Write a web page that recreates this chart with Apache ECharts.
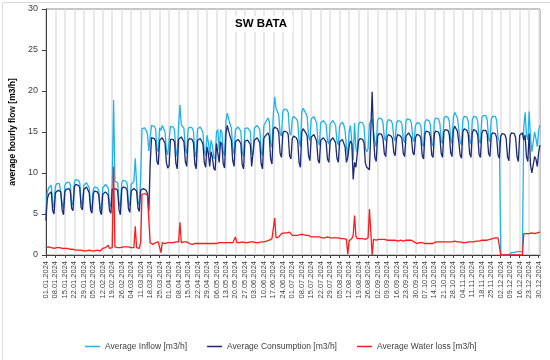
<!DOCTYPE html>
<html><head><meta charset="utf-8">
<script src="https://cdn.jsdelivr.net/npm/echarts@6/dist/echarts.min.js"></script>
<style>
html,body{margin:0;padding:0;background:#fff;}
#c{position:absolute;left:0;top:0;width:550px;height:360px;}
</style></head>
<body><div id="c"></div>
<script>
// ---- DATA (daily values 01.01.2024 - 31.12.2024, one row per week Mon..Sun) ----
const chartTitle = 'SW BATA';
const yAxisName = 'average hourly flow [m3/h]';
const seriesNames = ['Average Inflow [m3/h]', 'Average Consumption [m3/h]', 'Average Water loss [m3/h]'];
const yTicks = { min: 0, max: 30, interval: 5 };
const startDate = [2024, 1, 1];
const dayCount = 366;

const inflow = [
5.0,7.6,8.2,8.4,8.5,6.3,5.8,
8.4,8.7,8.8,8.7,8.6,6.3,5.7,
8.5,8.8,8.7,8.9,8.6,6.4,6.1,
8.9,9.2,9.3,9.1,8.8,6.4,6.1,
8.5,8.7,8.8,8.6,8.2,6.0,5.6,
8.0,8.3,8.4,8.2,7.9,5.9,5.4,
8.2,8.4,8.6,8.4,8.2,6.2,5.9,
8.9,18.9,9.0,9.0,8.8,6.4,5.8,
8.8,9.1,9.3,9.0,8.7,6.4,6.0,
8.6,8.8,9.0,11.8,8.7,6.5,6.1,
9.5,15.4,15.3,15.5,15.2,14.8,12.7,
12.5,15.8,15.9,15.7,15.4,13.0,12.6,
15.5,15.2,15.8,15.6,15.0,12.8,12.2,
12.4,15.7,15.8,15.6,15.3,12.7,12.0,
15.8,18.3,15.9,15.7,15.4,13.0,12.4,
15.3,15.6,15.7,15.5,15.1,12.5,11.9,
15.4,15.6,15.6,15.3,14.9,12.7,12.1,
14.6,13.8,12.2,14.0,13.3,12.0,11.7,
15.0,15.3,12.8,15.3,15.0,12.6,12.1,
16.3,17.3,16.6,16.0,15.5,13.0,12.3,
15.3,15.5,15.6,15.4,15.1,12.6,12.0,
15.4,15.6,15.5,15.4,15.1,12.5,12.2,
15.5,15.7,15.8,15.6,15.3,12.7,12.1,
15.8,16.1,16.4,16.7,16.3,13.6,13.1,
17.2,19.3,17.9,17.5,17.1,14.8,14.5,
17.5,17.8,17.9,17.7,17.4,14.9,14.6,
16.6,16.9,17.0,16.6,16.3,13.9,13.2,
17.4,17.9,17.7,17.3,16.9,14.5,13.9,
16.6,16.8,16.9,16.5,16.1,13.8,13.4,
16.1,16.3,16.4,16.2,15.9,13.9,13.5,
16.0,16.2,16.4,16.2,15.8,13.9,13.4,
15.8,16.0,16.2,15.9,15.2,13.2,12.0,
15.0,15.8,15.6,11.6,16.1,13.0,12.5,
15.9,16.2,16.3,16.1,15.7,13.1,12.6,
13.0,16.0,16.3,16.6,16.4,13.8,13.2,
16.4,16.7,16.8,16.6,16.1,14.3,13.9,
16.2,16.5,16.5,16.4,16.0,14.3,13.9,
16.1,16.4,16.5,16.3,15.9,14.1,13.7,
16.3,16.6,16.7,16.5,16.1,14.2,13.8,
15.8,16.1,16.3,16.1,15.7,13.6,13.2,
16.2,16.5,16.6,16.4,15.9,13.6,13.3,
16.4,16.7,16.9,16.6,16.1,14.0,13.6,
16.6,16.9,17.1,16.8,16.3,14.1,13.6,
16.8,17.4,17.3,16.7,15.4,13.8,13.4,
16.5,16.9,17.0,16.8,16.3,14.0,13.5,
16.5,16.9,17.0,16.8,16.3,14.0,13.6,
16.7,17.0,17.2,17.0,16.5,14.2,13.8,
16.6,16.9,17.0,16.9,16.4,14.3,13.9,
0,0,0,0,0,0,0,
0,0.3,0.3,0.3,0.4,0.4,0.4,
0.4,0.4,0.4,15.5,17.4,14.6,14.0,
17.5,14.2,12.6,12.4,15.0,14.2,13.2,
15.2,15.8
];

const consumption = [
4.2,6.8,7.4,7.6,7.7,5.4,5.0,
7.6,7.8,7.9,7.8,7.7,5.5,4.9,
7.7,8.0,7.9,8.1,7.8,5.7,5.4,
8.3,8.6,8.8,8.5,8.2,5.8,5.5,
8.0,8.2,8.3,8.1,7.6,5.5,5.1,
7.5,7.8,7.9,7.7,7.4,5.4,4.9,
7.4,7.6,7.7,7.5,7.3,5.4,5.1,
8.0,8.1,8.1,8.1,7.9,5.5,4.9,
8.0,8.3,8.5,8.2,7.9,5.6,5.2,
7.8,8.0,8.1,8.3,7.8,5.7,5.3,
7.9,8.0,8.1,8.0,7.9,7.5,5.4,
11.0,14.3,14.5,14.2,13.9,11.4,11.0,
14.0,14.1,14.3,14.1,13.6,11.3,10.6,
10.9,14.1,14.2,14.1,13.8,11.2,10.5,
14.1,14.3,14.4,14.1,13.8,11.4,10.8,
13.9,14.2,14.3,14.1,13.7,11.1,10.5,
14.0,14.2,14.2,13.9,13.5,11.3,10.7,
13.2,12.4,10.8,12.6,11.9,10.6,10.3,
13.6,13.8,11.3,13.8,13.5,11.1,10.6,
14.8,15.8,15.1,14.5,14.0,11.5,10.8,
13.8,14.0,14.1,13.9,13.6,11.0,10.5,
13.9,14.1,14.0,13.9,13.5,10.8,10.6,
14.0,14.2,14.3,14.1,13.7,11.1,10.5,
14.2,14.5,14.7,14.9,14.5,11.7,11.1,
15.3,15.6,15.8,15.4,14.9,12.4,11.9,
14.8,15.1,15.2,15.0,14.7,12.1,11.7,
14.2,14.5,14.6,14.3,13.9,11.3,10.7,
15.0,15.4,15.3,14.9,14.5,12.1,11.5,
14.4,14.6,14.7,14.3,13.9,11.6,11.2,
14.0,14.2,14.3,14.1,13.8,11.7,11.3,
13.9,14.1,14.3,14.1,13.7,11.8,11.3,
13.8,14.0,14.1,13.9,13.2,11.3,11.9,
13.3,13.9,13.6,9.2,11.3,10.7,10.5,
13.9,14.2,14.3,14.1,13.7,11.2,10.7,
10.9,10.4,10.5,19.9,14.5,11.9,11.4,
14.5,14.8,14.9,14.7,14.2,12.4,12.0,
14.4,14.7,14.7,14.5,14.2,12.5,12.1,
14.3,14.7,14.8,14.5,14.2,12.4,12.0,
14.5,14.7,14.9,14.7,14.3,12.5,12.2,
14.3,14.7,14.9,14.6,14.2,12.1,11.7,
14.8,15.1,15.2,15.0,14.5,12.2,11.9,
14.8,15.1,15.3,15.0,14.5,12.4,11.9,
15.0,15.3,15.5,15.2,14.7,12.5,12.0,
15.2,15.7,15.6,15.1,13.8,12.2,11.8,
15.0,15.4,15.5,15.2,14.7,12.4,11.9,
14.9,15.3,15.3,15.1,14.6,12.3,11.9,
14.9,15.2,15.4,15.2,14.7,12.4,12.0,
14.6,14.9,15.0,14.8,14.3,12.2,11.8,
14.5,14.8,14.9,14.7,14.2,12.0,11.5,
14.6,14.9,15.0,14.8,14.3,12.0,11.4,
14.6,14.8,14.9,14.0,14.6,12.0,11.4,
14.8,11.0,10.0,9.9,12.0,11.7,10.8,
12.5,13.4
];

const waterLoss = [
0.9,1.0,1.0,0.9,0.9,0.9,0.8,
0.8,0.9,0.8,0.9,0.8,0.8,0.8,
0.8,0.7,0.8,0.7,0.7,0.7,0.7,
0.6,0.6,0.6,0.6,0.6,0.6,0.6,
0.5,0.6,0.5,0.5,0.6,0.5,0.5,
0.5,0.5,0.5,0.6,0.5,0.5,0.5,
0.8,0.8,0.9,0.9,1.2,0.8,0.8,
0.9,10.8,1.0,0.9,0.9,0.9,0.9,
1.0,1.0,1.1,1.0,1.0,1.0,0.9,
0.9,0.8,0.9,3.5,0.9,0.8,0.8,
1.6,7.4,7.2,7.5,7.3,7.3,7.3,
1.5,1.3,1.3,1.4,1.5,1.5,1.6,
1.5,0.3,1.5,1.5,1.4,1.5,1.5,
1.5,1.5,1.6,1.5,1.5,1.6,1.6,
1.6,4.0,1.5,1.6,1.6,1.5,1.6,
1.4,1.4,1.4,1.3,1.4,1.4,1.4,
1.4,1.3,1.4,1.4,1.4,1.4,1.4,
1.4,1.4,1.4,1.4,1.4,1.4,1.4,
1.4,1.5,1.5,1.5,1.5,1.5,1.5,
1.5,1.5,1.6,1.5,1.5,1.5,1.5,
2.2,1.5,1.5,1.5,1.5,1.6,1.5,
1.5,1.5,1.5,1.5,1.6,1.7,1.6,
1.5,1.5,1.5,1.5,1.6,1.6,1.6,
1.6,1.6,1.7,1.8,1.8,1.9,2.0,
1.9,4.5,2.1,2.1,2.2,2.4,2.6,
2.7,2.7,2.7,2.7,2.7,2.8,2.9,
2.4,2.4,2.4,2.3,2.4,2.6,2.5,
2.4,2.5,2.4,2.4,2.4,2.4,2.4,
2.2,2.2,2.2,2.2,2.2,2.2,2.2,
2.1,2.1,2.1,2.1,2.1,2.2,2.2,
2.1,2.1,2.1,2.1,2.1,2.1,2.1,
2.0,2.0,2.1,2.0,2.0,1.9,0.1,
1.7,1.9,2.0,2.4,4.8,2.3,2.0,
2.0,2.0,2.0,2.0,2.0,1.9,1.9,
2.1,5.6,5.8,0.0,1.9,1.9,1.8,
1.9,1.9,1.9,1.9,1.9,1.9,1.9,
1.8,1.8,1.8,1.9,1.8,1.8,1.8,
1.8,1.7,1.7,1.8,1.7,1.7,1.7,
1.8,1.9,1.8,1.8,1.8,1.7,1.6,
1.5,1.4,1.4,1.5,1.5,1.5,1.5,
1.4,1.4,1.4,1.4,1.4,1.4,1.4,
1.6,1.6,1.6,1.6,1.6,1.6,1.7,
1.6,1.6,1.6,1.6,1.6,1.6,1.6,
1.6,1.7,1.7,1.6,1.6,1.6,1.6,
1.5,1.5,1.5,1.6,1.6,1.6,1.6,
1.6,1.6,1.7,1.7,1.7,1.7,1.7,
1.8,1.8,1.8,1.8,1.8,1.8,1.9,
2.0,2.0,2.0,2.1,2.1,2.1,2.0,
0,0,0,0,0,0,0,
0,0,0,0,0,0,0,
0,0,0,2.6,2.7,2.6,2.6,
2.6,2.7,2.7,2.6,2.6,2.7,2.7,
2.7,2.8
];

// category labels dd.mm.yyyy
const categories = [];
(function(){
  const d = new Date(Date.UTC(startDate[0], startDate[1]-1, startDate[2]));
  for (let i = 0; i < dayCount; i++) {
    const dd = String(d.getUTCDate()).padStart(2,'0');
    const mm = String(d.getUTCMonth()+1).padStart(2,'0');
    categories.push(dd + '.' + mm + '.' + d.getUTCFullYear());
    d.setUTCDate(d.getUTCDate()+1);
  }
})();

const colors = ['#1fb2ee', '#1b2a72', '#ff1a1a'];
const font = 'Liberation Sans';

const chart = echarts.init(document.getElementById('c'), null, {renderer:'canvas'});
chart.setOption({
  animation: false,
  backgroundColor: '#ffffff',
  textStyle: { fontFamily: font },
  graphic: [{
    type: 'rect', left: 0, top: 0, silent: true, z: -10,
    shape: { x: 0.5, y: 0.5, width: 549, height: 359 },
    style: { fill: 'none', stroke: '#d9d9d9', lineWidth: 1 }
  }],
  title: {
    text: chartTitle, left: 229, top: 16,
    backgroundColor: '#ffffff', padding: [2, 6],
    textStyle: { fontFamily: font, fontSize: 11.5, fontWeight: 'bold', color: '#000' }
  },
  legend: {
    top: 342, left: 85, padding: 0, itemGap: 20, itemWidth: 15, itemHeight: 1.5, icon: 'rect',
    textStyle: { fontFamily: font, fontSize: 8.5, color: '#404040' },
    data: seriesNames
  },
  grid: { left: 42.5, right: 10, top: 9, bottom: 105, show: true, borderColor: '#8c8c8c', borderWidth: 1 },
  xAxis: {
    type: 'category', data: categories, boundaryGap: false,
    axisLine: { lineStyle: { color: '#404040', width: 1 } },
    axisTick: { interval: 6, length: 3, lineStyle: { color: '#404040' } },
    axisLabel: { interval: 6, rotate: 90, fontSize: 7.5, margin: 6, color: '#404040', fontFamily: font },
    splitLine: { show: true, interval: 6, lineStyle: { color: '#e0e0e0', width: 1.5 } }
  },
  yAxis: {
    type: 'value', min: yTicks.min, max: yTicks.max, interval: yTicks.interval,
    name: yAxisName, nameLocation: 'middle', nameGap: 24,
    nameTextStyle: { fontFamily: font, fontSize: 8.5, fontWeight: 'bold', color: '#000' },
    axisLine: { show: true, lineStyle: { color: '#404040', width: 1 } },
    axisTick: { show: true, length: 4, lineStyle: { color: '#404040' } },
    axisLabel: { fontSize: 9, margin: 8, color: '#404040', fontFamily: font },
    splitLine: { show: false }
  },
  series: [
    { name: seriesNames[0], type: 'line', data: inflow, symbol: 'none', color: colors[0], lineStyle: { width: 1.3, color: colors[0] }, z: 2 },
    { name: seriesNames[1], type: 'line', data: consumption, symbol: 'none', color: colors[1], lineStyle: { width: 1.3, color: colors[1] }, z: 3 },
    { name: seriesNames[2], type: 'line', data: waterLoss, symbol: 'none', color: colors[2], lineStyle: { width: 1.3, color: colors[2] }, z: 4 }
  ]
});
</script>
</body></html>
